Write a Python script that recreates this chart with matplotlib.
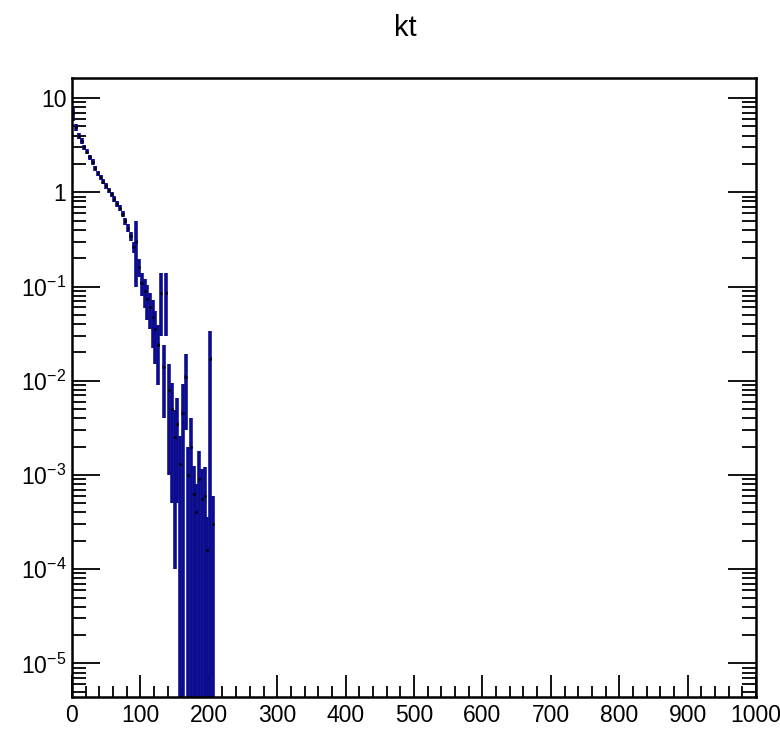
import matplotlib.pyplot as plt
import matplotlib.ticker as mticker
import numpy as np

plt.rcParams['font.family'] = ['Liberation Sans', 'DejaVu Sans']
plt.rcParams['mathtext.fontset'] = 'custom'
plt.rcParams['mathtext.rm'] = 'Liberation Sans'
plt.rcParams['mathtext.it'] = 'Liberation Sans'

# histogram "kt": bin width 4, bins from 0 to 208 (rest empty up to 1000)
bin_width = 4
bin_centers = np.arange(2, 208, 4)
values = [6.9, 4.9, 4.0, 3.5, 3.0, 2.7, 2.35, 2.1, 1.8, 1.6,
          1.45, 1.3, 1.17, 1.05, 0.95, 0.85, 0.76, 0.68, 0.59, 0.49,
          0.42, 0.34, 0.26, 0.30, 0.16, 0.11, 0.089, 0.074, 0.060, 0.047,
          0.035, 0.024, 0.085, 0.014, 0.085, 0.008, 0.005, 0.0025, 0.0035, 0.0013,
          0.0046, 0.011, 0.001, 0.002, 0.00063, 0.0004, 0.0009, 0.00056, 0.0006, 0.00016,
          0.017, 0.0003]
errors = [1.2, 0.45, 0.3, 0.24, 0.2, 0.17, 0.15, 0.13, 0.11, 0.1,
          0.09, 0.08, 0.075, 0.07, 0.065, 0.06, 0.055, 0.05, 0.045, 0.042,
          0.04, 0.035, 0.035, 0.2, 0.035, 0.03, 0.03, 0.03, 0.025, 0.025,
          0.02, 0.015, 0.055, 0.01, 0.055, 0.007, 0.0045, 0.0024, 0.003, 0.0013,
          0.0046, 0.008, 0.001, 0.002, 0.00063, 0.0004, 0.0009, 0.0006, 0.0006, 0.0002,
          0.017, 0.0003]

values = np.array(values)
errors = np.array(errors)
y_min, y_max = 4.4e-6, 16.3
lower = np.minimum(errors, values - y_min * 0.5)
upper = errors

fig = plt.figure(figsize=(7.8, 7.29), dpi=100)
ax = fig.add_axes([0.0923, 0.0439, 0.877, 0.849])

line_color = '#0c0c8e'
ax.errorbar(bin_centers, values, yerr=[lower, upper], xerr=bin_width / 2,
            fmt='none', ecolor=line_color, elinewidth=2.6, capsize=0)
ax.plot(bin_centers, values, 'o', color='black', markersize=1.0)

ax.set_yscale('log')
ax.set_xlim(0, 1000)
ax.set_ylim(y_min, y_max)

ax.xaxis.set_major_locator(mticker.MultipleLocator(100))
ax.xaxis.set_minor_locator(mticker.MultipleLocator(20))
ax.yaxis.set_major_locator(mticker.LogLocator(base=10, numticks=20))
ax.yaxis.set_minor_locator(mticker.LogLocator(base=10, subs=np.arange(2, 10), numticks=20))


def y_fmt(v, pos):
    e = int(round(np.log10(v)))
    if e == 0:
        return '1'
    if e == 1:
        return '10'
    return r'$10^{%d}$' % e


ax.yaxis.set_major_formatter(mticker.FuncFormatter(y_fmt))
ax.yaxis.set_minor_formatter(mticker.NullFormatter())

ax.tick_params(axis='x', which='both', direction='in', top=False, bottom=True,
               labelsize=16.5, pad=5, width=1.3)
ax.tick_params(axis='x', which='major', length=16)
ax.tick_params(axis='x', which='minor', length=8)
ax.tick_params(axis='y', which='both', direction='in', left=True, right=True,
               labelsize=16.5, pad=4, width=1.3)
ax.tick_params(axis='y', which='major', length=20)
ax.tick_params(axis='y', which='minor', length=10)

for sp in ax.spines.values():
    sp.set_linewidth(1.8)

fig.text(0.52, 0.962, 'kt', ha='center', va='center', fontsize=21)

fig.savefig('out.png', dpi=100)
